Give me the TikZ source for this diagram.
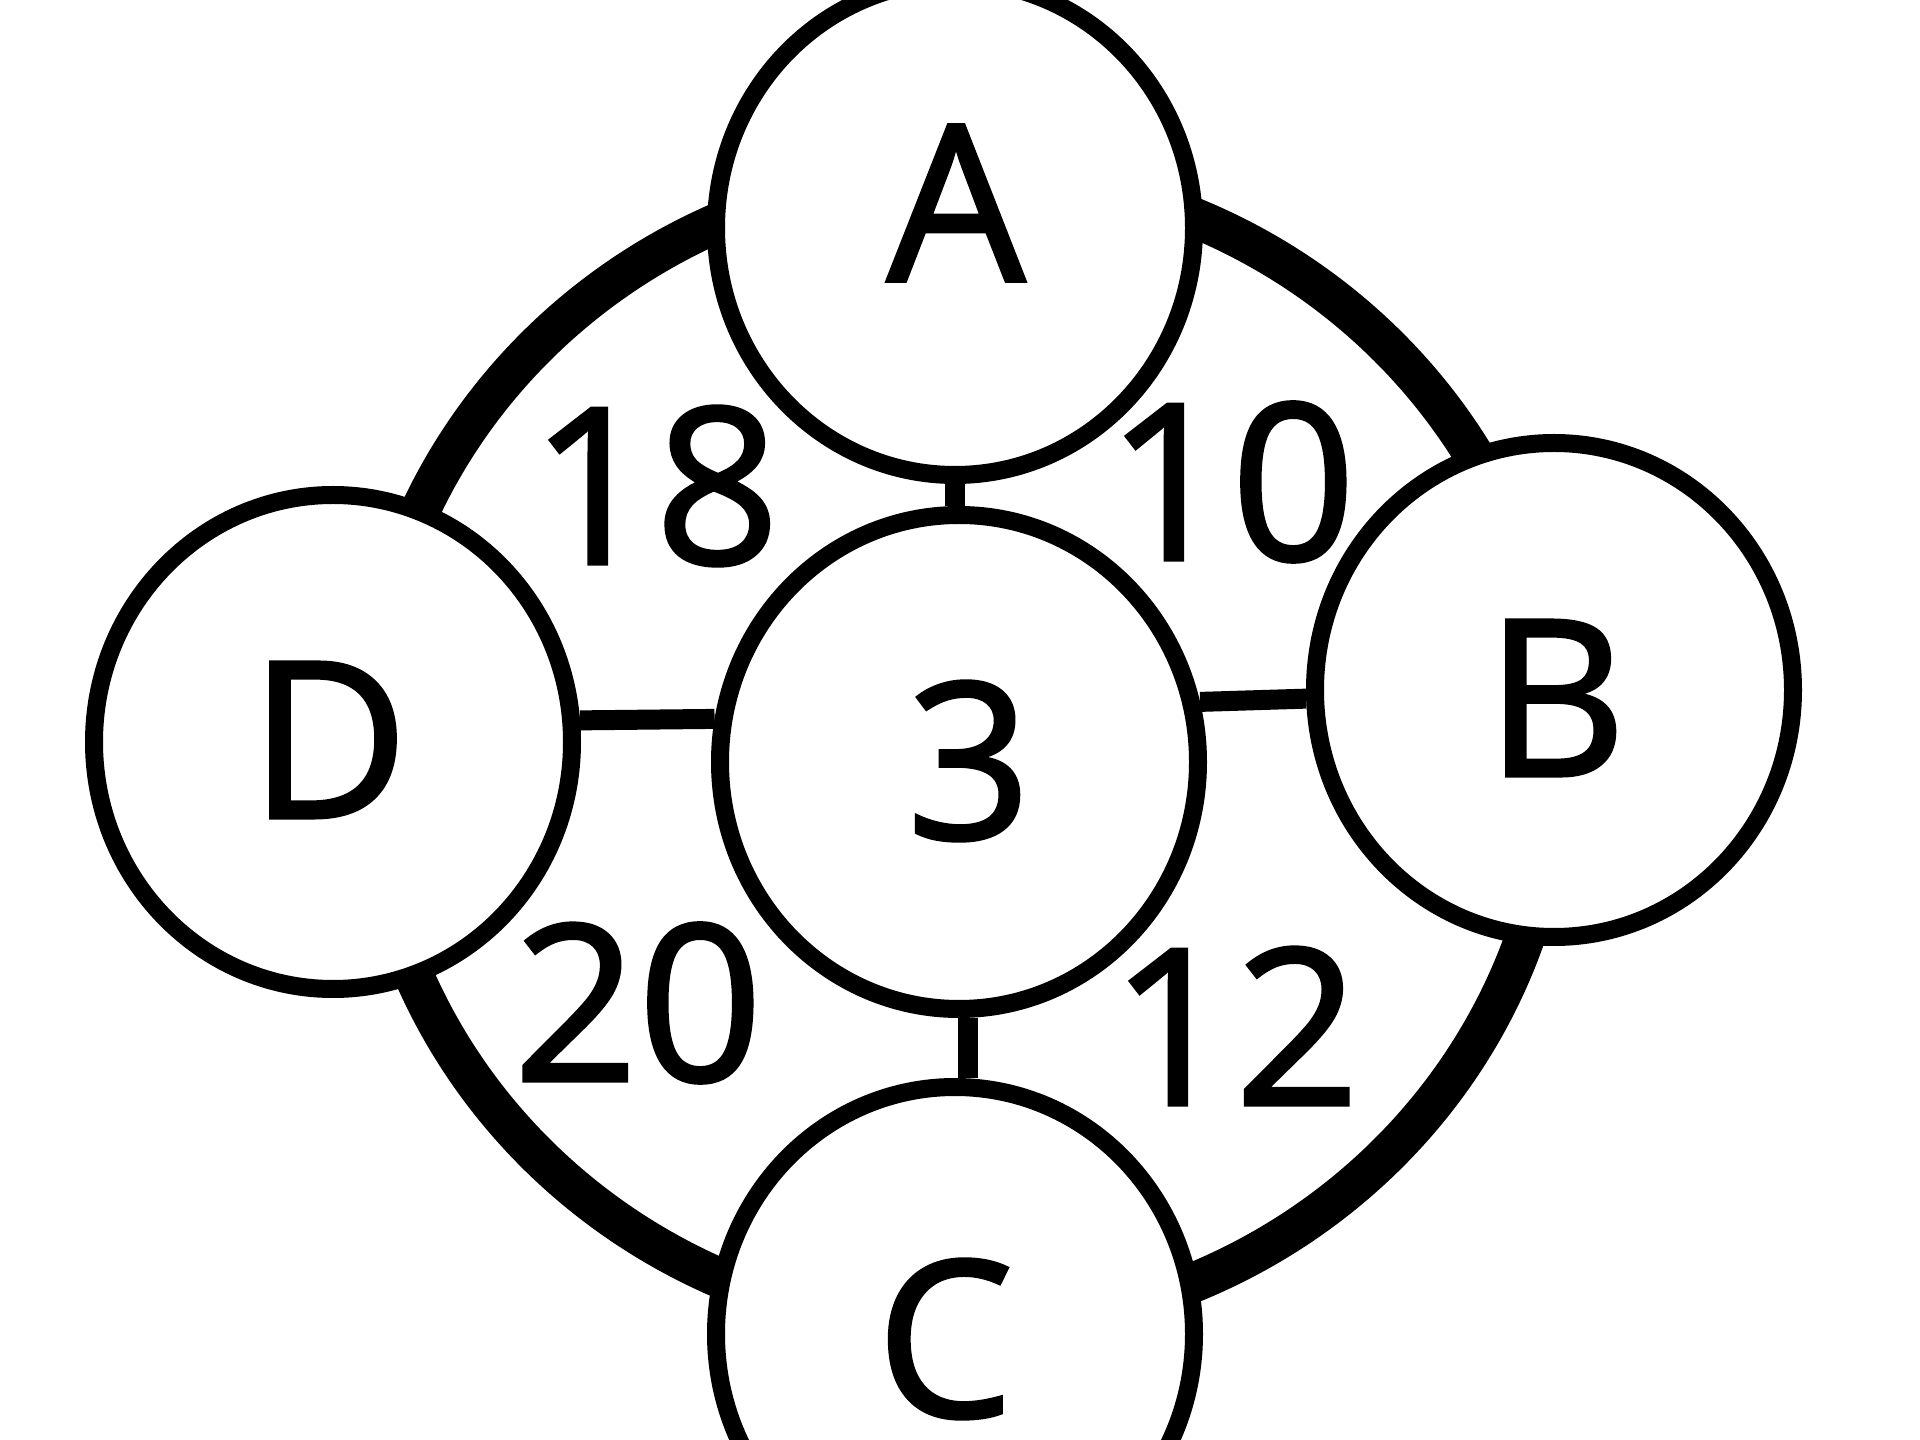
\documentclass[tikz,border=0pt]{standalone}
\usepackage{fontspec}
\setmainfont{Open Sans}
\newfontfamily\lblfont{Open Sans}[FakeBold=1.6]
\usetikzlibrary{shapes.geometric}
\begin{document}
\begin{tikzpicture}[x=0.1mm,y=-0.1mm,
  ring/.style={line width=4mm},
  bub/.style={ellipse,draw,line width=1.8mm,fill=white,minimum width=47.8mm,minimum height=49.4mm,inner sep=0pt},
  link/.style={line width=2mm},
  lbl/.style={inner sep=0pt,font=\lblfont\fontsize{62}{62}\selectfont}]
\useasboundingbox (0,0) rectangle (1920,1440);
\fill[white] (0,0) rectangle (1920,1440);
\coordinate (O) at (962,750);
\draw[ring] (O) ellipse [x radius=59.5mm, y radius=57.8mm];
\node[bub] (A) at (955,228) {};
\node[bub] (B) at (1554,690) {};
\node[bub] (C) at (955,1334) {};
\node[bub] (D) at (333,742) {};
\node[bub] (mid) at (959,762) {};
\draw[link] (A.south) -- (A.south |- mid.north);
\draw[link] (D.5) -- (mid.170);
\draw[link] (mid.14) -- (B.182);
\draw[link] (mid.272) -- (mid.272 |- C.north);
\node[lbl] (tA) at (956,203) {A};
\node[lbl] (tB) at (1556,698) {B};
\node[lbl] (tC) at (945,1339) {C};
\node[lbl] (tD) at (329,740) {D};
\node[lbl] (t3) at (969,761) {3};
\node[lbl] (w18) at (655,486) {18};
\node[lbl] (w10) at (1231,482) {10};
\node[lbl] (w20) at (638,1003) {20};
\node[lbl] (w12) at (1235,1026) {12};
\end{tikzpicture}
\end{document}
